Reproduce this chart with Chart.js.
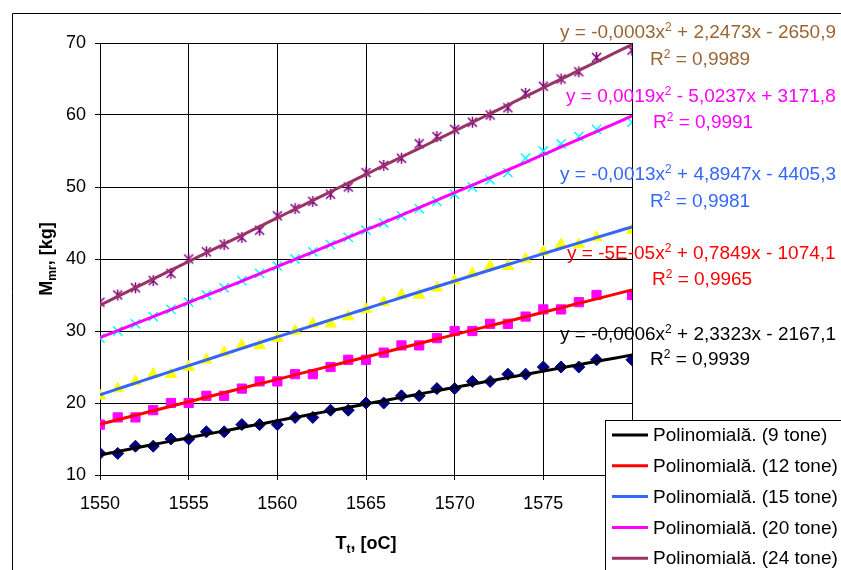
<!DOCTYPE html>
<html>
<head>
<meta charset="utf-8">
<script src="https://cdn.jsdelivr.net/npm/chart.js@4.4.0/dist/chart.umd.min.js"></script>
<style>
  html, body { margin: 0; padding: 0; background: #fff; }
  #wrap { width: 841px; height: 570px; }
</style>
</head>
<body>
<div id="wrap"><canvas id="massChart" width="841" height="570"></canvas></div>
<script>
// tapping temperature, oC (no sample taken at 1579)
const temps = [1550, 1551, 1552, 1553, 1554, 1555, 1556, 1557, 1558, 1559,
               1560, 1561, 1562, 1563, 1564, 1565, 1566, 1567, 1568, 1569,
               1570, 1571, 1572, 1573, 1574, 1575, 1576, 1577, 1578, 1580];

// alloy mass, kg, for each furnace charge
const mass9  = [13, 13, 14, 14, 15, 15, 16, 16, 17, 17, 17, 18, 18, 19, 19,
                20, 20, 21, 21, 22, 22, 23, 23, 24, 24, 25, 25, 25, 26, 26];
const mass12 = [17, 18, 18, 19, 20, 20, 21, 21, 22, 23, 23, 24, 24, 25, 26,
                26, 27, 28, 28, 29, 30, 30, 31, 31, 32, 33, 33, 34, 35, 35];
const mass15 = [21, 22, 23, 24, 24, 25, 26, 27, 28, 28, 29, 30, 31, 31, 32,
                33, 34, 35, 35, 36, 37, 38, 39, 39, 40, 41, 42, 42, 43, 44];
const mass20 = [29, 30, 31, 32, 33, 34, 35, 36, 37, 38, 39, 40, 41, 42, 43,
                44, 45, 46, 47, 48, 49, 50, 51, 52, 54, 55, 56, 57, 58, 59];
const mass24 = [34, 35, 36, 37, 38, 40, 41, 42, 43, 44, 46, 47, 48, 49, 50,
                52, 53, 54, 56, 57, 58, 59, 60, 61, 63, 64, 65, 66, 68, 69];

const charges = ['9 tone', '12 tone', '15 tone', '20 tone', '24 tone'];
const xTicks = [1550, 1555, 1560, 1565, 1570, 1575, 1580];
const yTicks = [10, 20, 30, 40, 50, 60, 70];

const equations = [
  'y = -0,0006x² + 2,3323x - 2167,1',
  'y = -5E-05x² + 0,7849x - 1074,1',
  'y = -0,0013x² + 4,8947x - 4405,3',
  'y = 0,0019x² - 5,0237x + 3171,8',
  'y = -0,0003x² + 2,2473x - 2650,9'
];
const rSquared = ['R² = 0,9939', 'R² = 0,9965', 'R² = 0,9981', 'R² = 0,9991', 'R² = 0,9989'];

const FONT = '"Liberation Sans", Arial, sans-serif';
const lineColors = ['#000000', '#ff0000', '#3366ff', '#ff00ff', '#993366'];
const textColors = ['#000000', '#ff0000', '#3366ff', '#ff00ff', '#996633'];

// where each equation / R² pair sits (left x, baseline y)
const labelSpots = [
  { ex: 560, ey: 340, rx: 650, ry: 365 },
  { ex: 567, ey: 259, rx: 652, ry: 285 },
  { ex: 560, ey: 180, rx: 650, ry: 207 },
  { ex: 566, ey: 102, rx: 653, ry: 128 },
  { ex: 560, ey: 38,  rx: 650, ry: 65 }
];

// least squares quadratic, x centred for stability
function quadFit(xs, ys) {
  const m = xs.reduce((a, b) => a + b, 0) / xs.length;
  let s = [0, 0, 0, 0, 0], t = [0, 0, 0];
  xs.forEach((x, i) => {
    const u = x - m;
    for (let k = 0; k < 5; k++) s[k] += Math.pow(u, k);
    for (let k = 0; k < 3; k++) t[k] += ys[i] * Math.pow(u, k);
  });
  const A = [[s[0], s[1], s[2], t[0]], [s[1], s[2], s[3], t[1]], [s[2], s[3], s[4], t[2]]];
  for (let i = 0; i < 3; i++) {
    for (let j = i + 1; j < 3; j++) {
      const f = A[j][i] / A[i][i];
      for (let k = i; k < 4; k++) A[j][k] -= f * A[i][k];
    }
  }
  const c = [0, 0, 0];
  for (let i = 2; i >= 0; i--) {
    let v = A[i][3];
    for (let k = i + 1; k < 3; k++) v -= A[i][k] * c[k];
    c[i] = v / A[i][i];
  }
  return x => c[0] + c[1] * (x - m) + c[2] * (x - m) * (x - m);
}

function trendPoints(ys) {
  const f = quadFit(temps, ys);
  const pts = [];
  for (let x = temps[0]; x <= temps[temps.length - 1]; x += 0.5) pts.push({ x: x, y: f(x) });
  return pts;
}

function toPoints(ys) {
  return temps.map((x, i) => ({ x: x, y: ys[i] }));
}

// Excel-like asterisk marker
function starMarker(color) {
  const c = document.createElement('canvas');
  c.width = 13; c.height = 13;
  const g = c.getContext('2d');
  g.strokeStyle = color;
  g.lineWidth = 1.5;
  g.beginPath();
  g.moveTo(2, 2); g.lineTo(11, 11);
  g.moveTo(11, 2); g.lineTo(2, 11);
  g.moveTo(6.5, 1); g.lineTo(6.5, 12);
  g.stroke();
  return c;
}

const allMass = [mass9, mass12, mass15, mass20, mass24];
const markers = [
  { pointStyle: 'rectRot', pointRadius: 6, backgroundColor: '#000080', borderColor: '#000080', borderWidth: 1 },
  { pointStyle: 'rect', pointRadius: 6.5, backgroundColor: '#ff00ff', borderColor: '#ff00ff', borderWidth: 1 },
  { pointStyle: 'triangle', pointRadius: 6.5, backgroundColor: '#ffff00', borderColor: '#ffff00', borderWidth: 1 },
  { pointStyle: 'crossRot', pointRadius: 6.5, backgroundColor: '#00ffff', borderColor: '#00ffff', borderWidth: 1.5 },
  { pointStyle: starMarker('#800080'), pointRadius: 6, backgroundColor: '#800080', borderColor: '#800080', borderWidth: 1 }
];

const datasets = [];
allMass.forEach((ys, i) => {
  datasets.push({
    label: 'Polinomială. (' + charges[i] + ')',
    isTrend: true,
    data: trendPoints(ys),
    showLine: true,
    borderColor: lineColors[i],
    borderWidth: 3,
    pointRadius: 0,
    order: 0
  });
});
allMass.forEach((ys, i) => {
  datasets.push(Object.assign({
    label: charges[i],
    data: toPoints(ys),
    showLine: false,
    order: 1
  }, markers[i]));
});

// draws text, turning '²' into a raised small 2
function drawSup(ctx, text, x, y, size) {
  const parts = text.split('²');
  let cx = x;
  parts.forEach((p, i) => {
    ctx.font = size + 'px ' + FONT;
    ctx.fillText(p, cx, y);
    cx += ctx.measureText(p).width;
    if (i < parts.length - 1) {
      ctx.font = Math.round(size * 0.62) + 'px ' + FONT;
      ctx.fillText('2', cx, y - size * 0.38);
      cx += ctx.measureText('2').width;
    }
  });
}

// bold title with a subscript part; x is the centre, y the baseline
function subTitle(ctx, main, sub, rest, x, y) {
  const big = 'bold 18px ' + FONT, small = 'bold 12px ' + FONT;
  ctx.font = big; const w1 = ctx.measureText(main).width;
  ctx.font = small; const w2 = ctx.measureText(sub).width;
  ctx.font = big; const w3 = ctx.measureText(rest).width;
  const sx = x - (w1 + w2 + w3) / 2;
  ctx.font = big; ctx.fillText(main, sx, y);
  ctx.font = small; ctx.fillText(sub, sx + w1, y + 4);
  ctx.font = big; ctx.fillText(rest, sx + w1 + w2, y);
}

const decorPlugin = {
  id: 'decor',
  beforeDraw(chart) {
    const ctx = chart.ctx;
    ctx.save();
    ctx.fillStyle = '#ffffff';
    ctx.fillRect(0, 0, chart.width, chart.height);
    ctx.strokeStyle = '#000000';
    ctx.lineWidth = 1;
    ctx.beginPath();
    ctx.moveTo(12.5, chart.height);
    ctx.lineTo(12.5, 13.5);
    ctx.lineTo(chart.width, 13.5);
    ctx.stroke();
    ctx.restore();
  },
  afterDraw(chart) {
    const ctx = chart.ctx;
    const area = chart.chartArea;
    ctx.save();
    ctx.fillStyle = '#000000';
    ctx.textBaseline = 'alphabetic';
    ctx.textAlign = 'left';

    // axis titles
    subTitle(ctx, 'T', 't', ', [oC]', (area.left + area.right) / 2, 549);
    ctx.save();
    ctx.translate(52, (area.top + area.bottom) / 2);
    ctx.rotate(-Math.PI / 2);
    subTitle(ctx, 'M', 'mr', ', [kg]', 0, 0);
    ctx.restore();

    // trendline equations
    labelSpots.forEach((s, i) => {
      ctx.fillStyle = textColors[i];
      drawSup(ctx, equations[i], s.ex, s.ey, 19);
      drawSup(ctx, rSquared[i], s.rx, s.ry, 19);
    });

    // legend box (trendlines only)
    const bx = 605.5, by = 420.5;
    ctx.fillStyle = '#ffffff';
    ctx.fillRect(bx, by, 300, 200);
    ctx.strokeStyle = '#000000';
    ctx.lineWidth = 1;
    ctx.strokeRect(bx, by, 300, 200);
    const trends = chart.data.datasets.filter(d => d.isTrend);
    ctx.font = '19px ' + FONT;
    ctx.textBaseline = 'middle';
    trends.forEach((d, i) => {
      const ry = 435 + i * 30.8;
      ctx.strokeStyle = d.borderColor;
      ctx.lineWidth = 3;
      ctx.beginPath();
      ctx.moveTo(612, ry);
      ctx.lineTo(648, ry);
      ctx.stroke();
      ctx.fillStyle = '#000000';
      ctx.fillText(d.label, 653, ry + 1);
    });
    ctx.restore();
  }
};

new Chart(document.getElementById('massChart'), {
  type: 'scatter',
  data: { datasets: datasets },
  plugins: [decorPlugin],
  options: {
    responsive: false,
    animation: false,
    layout: { padding: { top: 43, right: 209, bottom: 0, left: 0 } },
    plugins: { legend: { display: false }, tooltip: { enabled: false } },
    scales: {
      x: {
        type: 'linear',
        min: xTicks[0],
        max: xTicks[xTicks.length - 1],
        afterBuildTicks: s => { s.ticks = xTicks.map(v => ({ value: v })); },
        afterFit: s => { s.height = 95; },
        ticks: { color: '#000', font: { size: 18, family: FONT }, padding: 13, maxRotation: 0,
                 callback: v => String(v) },
        grid: { color: '#000', lineWidth: 1, tickLength: 5 },
        border: { color: '#000' }
      },
      y: {
        type: 'linear',
        min: yTicks[0],
        max: yTicks[yTicks.length - 1],
        afterBuildTicks: s => { s.ticks = yTicks.map(v => ({ value: v })); },
        afterFit: s => { s.width = 100; },
        ticks: { color: '#000', font: { size: 18, family: FONT }, padding: 9,
                 callback: v => String(v) },
        grid: { color: '#000', lineWidth: 1, tickLength: 5 },
        border: { color: '#000' }
      }
    }
  }
});
</script>
</body>
</html>
